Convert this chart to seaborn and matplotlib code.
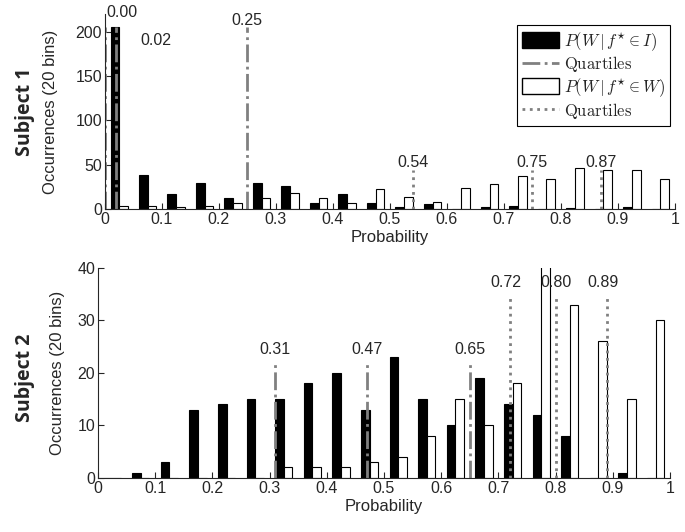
# Histogram of P(W|f*) for two subjects, incorrect vs wrong features
# 20 bins, quartile markers drawn as vertical lines

import pandas as pd
import matplotlib.pyplot as plt
import seaborn as sns
from matplotlib.patches import Patch
from matplotlib.lines import Line2D

# bin centres (20 bins on [0, 1])
bin_centers = [0.025, 0.075, 0.125, 0.175, 0.225, 0.275, 0.325, 0.375, 0.425, 0.475,
               0.525, 0.575, 0.625, 0.675, 0.725, 0.775, 0.825, 0.875, 0.925, 0.975]

# Subject 1 counts
s1_in_i = [205, 38, 17, 29, 12, 29, 26, 7, 17, 7, 2, 6, 0, 2, 4, 0, 1, 0, 2, 0]
s1_in_w = [3, 4, 2, 4, 7, 12, 18, 12, 7, 23, 14, 8, 24, 28, 37, 34, 46, 44, 44, 34]
# Subject 2 counts
s2_in_i = [0, 1, 3, 13, 14, 15, 15, 18, 20, 13, 23, 15, 10, 19, 14, 12, 8, 0, 1, 0]
s2_in_w = [0, 0, 0, 0, 0, 0, 2, 2, 2, 3, 4, 8, 15, 10, 18, 45, 33, 26, 15, 30]

# quartiles
s1_q_i = [0.00, 0.02, 0.25]
s1_q_w = [0.54, 0.75, 0.87]
s2_q_i = [0.31, 0.47, 0.65]
s2_q_w = [0.72, 0.80, 0.89]

sns.set_style('ticks')
plt.rcParams['font.family'] = ['Liberation Sans', 'DejaVu Sans']
plt.rcParams['mathtext.fontset'] = 'cm'

fig = plt.figure(figsize=(6.85, 5.32), dpi=100)
ax1 = fig.add_axes([0.153, 0.607, 0.832, 0.367])
ax2 = fig.add_axes([0.143, 0.1015, 0.835, 0.395])

qcol = '#808080'


def draw_hist(ax, vals_i, vals_w):
    df = pd.DataFrame({'x': bin_centers + bin_centers,
                       'count': vals_i + vals_w,
                       'set': ['I'] * len(vals_i) + ['W'] * len(vals_w)})
    sns.barplot(data=df, x='x', y='count', hue='set', native_scale=True, dodge=True,
                width=0.6, palette={'I': 'black', 'W': 'white'}, edgecolor='black',
                linewidth=0.8, errorbar=None, legend=False, ax=ax)


def draw_quartiles(ax, qs, top, style, labels):
    for q, (lx, ly) in zip(qs, labels):
        ax.plot([q, q], [0, top], color=qcol, linestyle=style, linewidth=2)
        ax.text(lx, ly, f'{q:.2f}', ha='center', va='center', fontsize=11.5, clip_on=False)


# ---- Subject 1 ----
draw_hist(ax1, s1_in_i, s1_in_w)
draw_quartiles(ax1, s1_q_i, 205, '-.', [(0.03, 222), (0.09, 190), (0.25, 213)])
draw_quartiles(ax1, s1_q_w, 44, ':', [(0.54, 53), (0.75, 53), (0.87, 53)])
ax1.set_ylim(0, 220)
ax1.set_yticks([0, 50, 100, 150, 200])

# ---- Subject 2 ----
draw_hist(ax2, s2_in_i, s2_in_w)
draw_quartiles(ax2, s2_q_i, 22, '-.', [(0.31, 24.5), (0.47, 24.5), (0.65, 24.5)])
draw_quartiles(ax2, s2_q_w, 35, ':', [(0.713, 37.2), (0.80, 37.2), (0.883, 37.2)])
ax2.set_ylim(0, 40)
ax2.set_yticks([0, 10, 20, 30, 40])

for ax in (ax1, ax2):
    ax.set_xlim(0, 1)
    ax.set_xticks([0, 0.1, 0.2, 0.3, 0.4, 0.5, 0.6, 0.7, 0.8, 0.9, 1])
    ax.set_xticklabels(['0', '0.1', '0.2', '0.3', '0.4', '0.5', '0.6', '0.7', '0.8', '0.9', '1'])
    ax.tick_params(direction='in', length=4, labelsize=11.5, pad=2)
    ax.set_xlabel('Probability', fontsize=12, labelpad=2)
    ax.set_ylabel('Occurrences (20 bins)', fontsize=12)
    sns.despine(ax=ax)

ax1.yaxis.set_label_coords(-0.082, 0.5)
ax2.yaxis.set_label_coords(-0.058, 0.5)

fig.text(0.036, 0.79, 'Subject 1', rotation=90, ha='center', va='center',
         fontsize=14, fontweight='bold', family='Open Sans')
fig.text(0.036, 0.29, 'Subject 2', rotation=90, ha='center', va='center',
         fontsize=14, fontweight='bold', family='Open Sans')

handles = [Patch(facecolor='black', edgecolor='black'),
           Line2D([], [], color=qcol, linestyle='-.', linewidth=2),
           Patch(facecolor='white', edgecolor='black'),
           Line2D([], [], color=qcol, linestyle=':', linewidth=2)]
labels = [r'$P(W\,|\,f^{\star}\in I)$', r'$\mathrm{Quartiles}$',
          r'$P(W\,|\,f^{\star}\in W)$', r'$\mathrm{Quartiles}$']
leg = ax1.legend(handles, labels, loc='upper right', bbox_to_anchor=(0.978, 0.953),
                 bbox_transform=fig.transFigure, fontsize=12, frameon=True, fancybox=False,
                 edgecolor='black', framealpha=1, handlelength=2.2, handleheight=1.1,
                 handletextpad=0.3, borderpad=0.3, labelspacing=0.1, borderaxespad=0)
leg.get_frame().set_linewidth(0.8)

plt.savefig('out.png', dpi=100)
